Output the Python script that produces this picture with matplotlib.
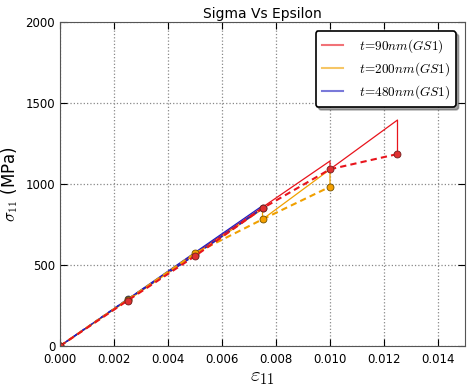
import matplotlib
matplotlib.use('Agg')
import matplotlib.pyplot as plt

plt.rcParams['mathtext.fontset'] = 'cm'

# strain points where the results were sampled
eps_red = [0.0, 0.0025, 0.005, 0.0075, 0.01, 0.0125]
eps_org = [0.0, 0.0025, 0.005, 0.0075, 0.01]
eps_blu = [0.0, 0.0025, 0.005, 0.0075]

# dashed curves (stress at sample points, MPa)
sig_red = [0, 280, 555, 850, 1091, 1185]
sig_org = [0, 285, 572, 782, 983]
sig_blu = [0, 288, 562, 850]

# solid saw-tooth curves (elastic ramp then drop)
eps_red_solid = [0.0, 0.01, 0.01, 0.0125, 0.0125]
sig_red_solid = [0, 1142, 1091, 1395, 1185]
eps_org_solid = [0.0, 0.0075, 0.0075, 0.01, 0.01]
sig_org_solid = [0, 845, 782, 1090, 983]
eps_blu_solid = [0.0, 0.0075, 0.0075]
sig_blu_solid = [0, 866, 850]

labels = [r'$t\!=\!90nm(GS1)$', r'$t\!=\!200nm(GS1)$', r'$t\!=\!480nm(GS1)$']

red = '#e8141c'
orange = '#f0a000'
blue = '#2020c0'

fig = plt.figure(figsize=(4.74, 3.86), dpi=100)
ax = fig.add_axes([0.1266, 0.1036, 0.8544, 0.8394])

ax.plot(eps_red_solid, sig_red_solid, color=red, lw=0.9, label=labels[0])
ax.plot(eps_org_solid, sig_org_solid, color=orange, lw=0.9, label=labels[1])
ax.plot(eps_blu_solid, sig_blu_solid, color=blue, lw=0.9, label=labels[2])

ax.plot(eps_blu, sig_blu, color=blue, lw=1.2, ls='--', dashes=(3, 2),
        marker='o', ms=5, mfc='#303080', mec='#404040', mew=0.6)
ax.plot(eps_org, sig_org, color=orange, lw=1.5, ls='--', dashes=(3, 2),
        marker='o', ms=5, mfc='#f5a000', mec='#705000', mew=0.6)
ax.plot(eps_red, sig_red, color=red, lw=1.5, ls='--', dashes=(3, 2),
        marker='o', ms=5, mfc='#e03030', mec='#702020', mew=0.6)

ax.set_xlim(0, 0.015)
ax.set_ylim(0, 2000)
ax.set_xticks([0.000, 0.002, 0.004, 0.006, 0.008, 0.010, 0.012, 0.014])
ax.set_yticks([0, 500, 1000, 1500, 2000])
ax.xaxis.set_major_formatter(matplotlib.ticker.FormatStrFormatter('%.3f'))
ax.tick_params(direction='in', top=True, right=True, labelsize=8.5, length=5)
ax.tick_params(axis='x', pad=5)
ax.grid(True, ls=':', color='#888888', lw=0.9)
for s in ax.spines.values():
    s.set_color('#555555')

ax.set_title('Sigma Vs Epsilon', fontsize=10, pad=3)
ax.set_xlabel(r'$\varepsilon_{11}$', fontsize=15, labelpad=1)
ax.set_ylabel(r'$\sigma_{11}$ (MPa)', fontsize=12, labelpad=4)

leg = ax.legend(loc='upper right', fancybox=True, shadow=True,
                handlelength=1.6, handletextpad=1.2, borderpad=0.45,
                labelspacing=0.4, borderaxespad=0.7, prop={'size': 9.5})
leg.get_frame().set_edgecolor('black')
leg.get_frame().set_linewidth(1.2)
for h in leg.get_lines():
    h.set_alpha(0.6)
    h.set_linewidth(1.5)

fig.savefig('out.png', dpi=100)
